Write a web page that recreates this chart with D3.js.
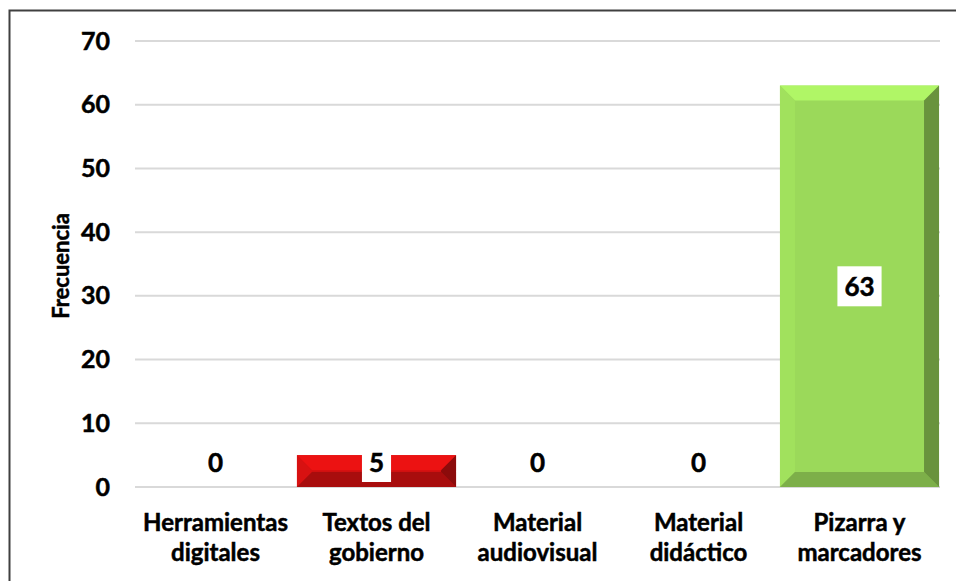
<!DOCTYPE html>
<html>
<head>
<meta charset="utf-8">
<script src="https://cdn.jsdelivr.net/npm/d3@7"></script>
<style>
  body { margin: 0; background: #fff; }
  svg { display: block; font-family: Lato, "Open Sans", sans-serif; font-weight: bold; }
  text { stroke: #000; stroke-width: 0.5px; }
</style>
</head>
<body>
<svg id="chart" width="956" height="581"></svg>
<script>
const categories = [
  ['Herramientas', 'digitales'],
  ['Textos del', 'gobierno'],
  ['Material', 'audiovisual'],
  ['Material', 'didáctico'],
  ['Pizarra y', 'marcadores']
];
const values = [0, 5, 0, 0, 63];
const barColors = ['#d01010', '#d01010', '#d01010', '#d01010', '#9bd95a'];
const yTicks = [0, 10, 20, 30, 40, 50, 60, 70];

const plotLeft = 135, plotRight = 940, plotTop = 41, plotBottom = 487;

const svg = d3.select('#chart');

// outer chart border
svg.append('rect')
  .attr('x', 9.5).attr('y', 10.5)
  .attr('width', 1000).attr('height', 600)
  .attr('fill', 'none')
  .attr('stroke', '#404040')
  .attr('stroke-width', 2);

const x = d3.scaleBand()
  .domain(d3.range(categories.length))
  .range([plotLeft, plotRight])
  .paddingInner(0.012)
  .paddingOuter(0.006);

const y = d3.scaleLinear()
  .domain([0, 70])
  .range([plotBottom, plotTop]);

// gridlines
svg.append('g')
  .selectAll('line')
  .data(yTicks)
  .enter()
  .append('line')
  .attr('x1', plotLeft).attr('x2', plotRight)
  .attr('y1', d => y(d)).attr('y2', d => y(d))
  .attr('stroke', '#d9d9d9')
  .attr('stroke-width', 2);

// y axis labels
const yAxis = d3.axisLeft(y).tickValues(yTicks).tickSize(0).tickPadding(0);
const gy = svg.append('g')
  .attr('transform', `translate(${plotLeft - 25},0)`)
  .call(yAxis);
gy.select('.domain').remove();
gy.selectAll('text')
  .attr('font-size', 25)
  .attr('font-family', 'Lato, sans-serif')
  .attr('font-weight', 'bold')
  .attr('fill', '#000');

// axis title
svg.append('text')
  .attr('transform', 'translate(69,266) rotate(-90)')
  .attr('text-anchor', 'middle')
  .attr('font-size', 22)
  .attr('fill', '#000')
  .text('Frecuencia');

// bevel shading
function bevel(g, x0, y0, w, h, color) {
  const b = Math.min(15, h / 2, w / 2);
  const c = d3.color(color);
  g.append('rect').attr('x', x0).attr('y', y0).attr('width', w).attr('height', h).attr('fill', color);
  const poly = (pts, fill) => g.append('polygon')
    .attr('points', pts.map(p => p.join(',')).join(' '))
    .attr('fill', fill);
  // top (light)
  poly([[x0, y0], [x0 + w, y0], [x0 + w - b, y0 + b], [x0 + b, y0 + b]], c.brighter(0.35));
  // left
  poly([[x0, y0], [x0 + b, y0 + b], [x0 + b, y0 + h - b], [x0, y0 + h]], c.brighter(0.1));
  // bottom (dark)
  poly([[x0, y0 + h], [x0 + b, y0 + h - b], [x0 + w - b, y0 + h - b], [x0 + w, y0 + h]], c.darker(0.6));
  // right (darkest)
  poly([[x0 + w, y0], [x0 + w - b, y0 + b], [x0 + w - b, y0 + h - b], [x0 + w, y0 + h]], c.darker(1.1));
}

const bars = svg.append('g');
values.forEach((v, i) => {
  if (v <= 0) return;
  bevel(bars, x(i), y(v), x.bandwidth(), y(0) - y(v), barColors[i]);
});

// value labels
const labels = svg.append('g');
values.forEach((v, i) => {
  const cx = x(i) + x.bandwidth() / 2;
  const cy = Math.min((y(v) + y(0)) / 2, y(0) - 25);
  const t = labels.append('text')
    .attr('x', cx).attr('y', cy)
    .attr('text-anchor', 'middle')
    .attr('dominant-baseline', 'central')
    .attr('font-size', 26)
    .attr('fill', '#000')
    .text(v);
  const bb = t.node().getBBox();
  const padX = 7, boxH = 40;
  labels.insert('rect', 'text')
    .attr('x', bb.x - padX).attr('y', cy - boxH / 2)
    .attr('width', bb.width + 2 * padX).attr('height', boxH)
    .attr('fill', '#fff')
    .attr('stroke', 'none');
});

// category labels
const cat = svg.append('g');
categories.forEach((lines, i) => {
  const t = cat.append('text')
    .attr('x', x(i) + x.bandwidth() / 2)
    .attr('y', 531)
    .attr('text-anchor', 'middle')
    .attr('font-size', 24)
    .attr('fill', '#000');
  lines.forEach((l, j) => {
    t.append('tspan')
      .attr('x', x(i) + x.bandwidth() / 2)
      .attr('dy', j === 0 ? 0 : 30)
      .text(l);
  });
});
</script>
</body>
</html>
